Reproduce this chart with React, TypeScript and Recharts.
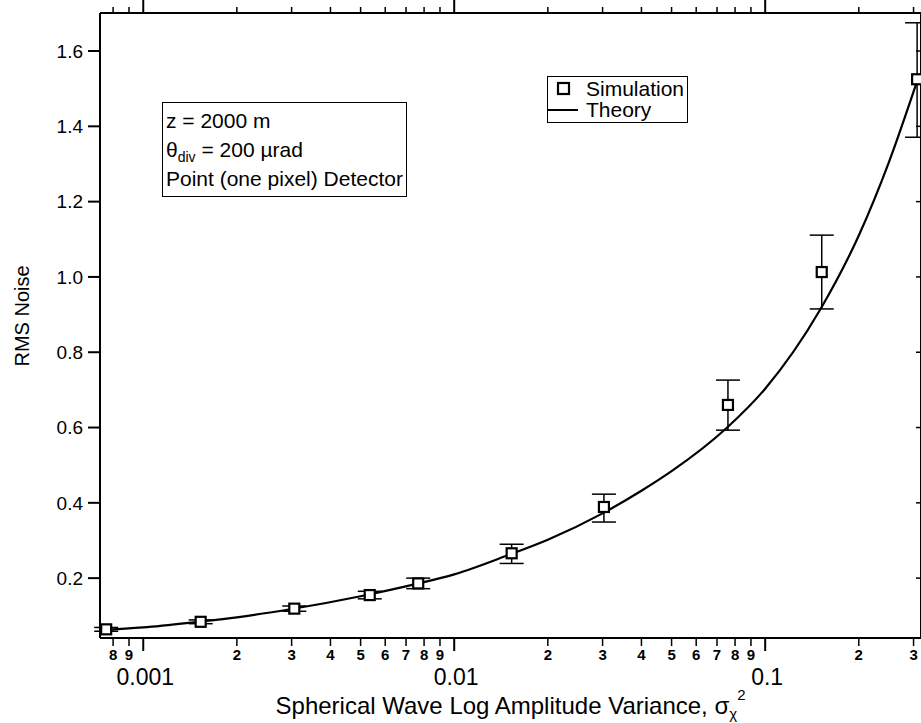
import React from 'react';
import { ComposedChart, XAxis, YAxis, Line, Scatter, ErrorBar } from 'recharts';

// Simulation points (x = spherical wave log amplitude variance, y = RMS noise)
const simX = [0.00076, 0.00153, 0.00306, 0.00535, 0.00766, 0.0153, 0.0303, 0.0759, 0.152, 0.308];
const simY = [0.064, 0.084, 0.119, 0.155, 0.186, 0.266, 0.389, 0.66, 1.013, 1.525];
const simErrLow = [0.005, 0.005, 0.007, 0.01, 0.014, 0.027, 0.04, 0.067, 0.098, 0.154];
const simErrHigh = [0.005, 0.005, 0.007, 0.01, 0.014, 0.024, 0.034, 0.066, 0.098, 0.15];

// Theory curve
const theoryX = [0.000726, 0.001, 0.0015, 0.002, 0.003, 0.005, 0.0075, 0.01, 0.015, 0.02, 0.03, 0.04, 0.05, 0.075, 0.1, 0.15, 0.2, 0.25, 0.308];
const theoryY = [0.062, 0.069, 0.084, 0.096, 0.118, 0.152, 0.184, 0.21, 0.262, 0.302, 0.372, 0.432, 0.484, 0.598, 0.703, 0.912, 1.11, 1.305, 1.52];

const xTicks = [0.0008, 0.0009, 0.001, 0.002, 0.003, 0.004, 0.005, 0.006, 0.007, 0.008, 0.009, 0.01, 0.02, 0.03, 0.04, 0.05, 0.06, 0.07, 0.08, 0.09, 0.1, 0.2, 0.3];
const yTicks = [0.2, 0.4, 0.6, 0.8, 1.0, 1.2, 1.4, 1.6];
const xDomain = [0.000726, 0.317];
const yDomain = [0.041, 1.701];

const simData = simX.map((x, i) => ({ x, y: simY[i], err: [simErrLow[i], simErrHigh[i]] }));
const theoryData = theoryX.map((x, i) => ({ x, y: theoryY[i] }));

const FONT = '"Liberation Sans", Arial, Helvetica, sans-serif';

function mantissa(v: number) {
  const e = Math.floor(Math.log10(v) + 1e-9);
  return Math.round(v / Math.pow(10, e));
}

const BottomTick = (props: any) => {
  const { x, y, payload } = props;
  const v = payload.value;
  const m = mantissa(v);
  const major = m === 1;
  return (
    <g>
      <line x1={x} x2={x} y1={y} y2={y + (major ? 13 : 8)} stroke="#000" strokeWidth={major ? 2 : 1.5} />
      {major ? (
        <text x={x + 2} y={y + 47} textAnchor="middle" fontSize={23} fontFamily={FONT} fill="#000">{String(v)}</text>
      ) : (
        <text x={x} y={y + 22} textAnchor="middle" fontSize={15} fontWeight="bold" fontFamily={FONT} fill="#000">{m}</text>
      )}
    </g>
  );
};

const TopTick = (props: any) => {
  const { x, y, payload } = props;
  const major = mantissa(payload.value) === 1;
  return <line x1={x} x2={x} y1={y} y2={y - (major ? 13 : 6)} stroke="#000" strokeWidth={major ? 2 : 1.5} />;
};

const NoTick = () => <g />;

const Square = (p: any) => (
  <rect x={p.cx - 5} y={p.cy - 5} width={10} height={10} fill="#fff" stroke="#000" strokeWidth={2.2} />
);

const XTitle = (props: any) => {
  const vb = props.viewBox;
  const cx = vb.x + vb.width / 2;
  return (
    <text x={cx} y={714} textAnchor="middle" fontSize={24} fontFamily={FONT} fill="#000">
      Spherical Wave Log Amplitude Variance, σ
      <tspan fontSize={15} dy={5}>χ</tspan>
      <tspan fontSize={15} dy={-19}>2</tspan>
    </text>
  );
};

const YTitle = () => (
  <text x={0} y={0} transform="translate(29,316) rotate(-90)" textAnchor="middle" fontSize={20} fontFamily={FONT} fill="#000">
    RMS Noise
  </text>
);

export default function App() {
  return (
    <div style={{ position: 'absolute', left: 0, top: 0, width: 921, height: 723, background: '#fff' }}>
      <ComposedChart width={921} height={723} margin={{ top: 0, right: 0, bottom: 0, left: 0 }}>
        <XAxis
          xAxisId="bottom"
          dataKey="x"
          type="number"
          scale="log"
          domain={xDomain}
          allowDataOverflow
          ticks={xTicks}
          interval={0}
          tickLine={false}
          tickSize={0}
          tickMargin={0}
          tick={<BottomTick />}
          height={85}
          axisLine={{ stroke: '#000', strokeWidth: 2 }}
          label={<XTitle />}
        />
        <XAxis
          xAxisId="top"
          orientation="top"
          dataKey="x"
          type="number"
          scale="log"
          domain={xDomain}
          allowDataOverflow
          ticks={xTicks}
          interval={0}
          tickLine={false}
          tickSize={0}
          tickMargin={0}
          tick={<TopTick />}
          height={13}
          axisLine={{ stroke: '#000', strokeWidth: 2 }}
        />
        <YAxis
          yAxisId="left"
          type="number"
          domain={yDomain}
          allowDataOverflow
          ticks={yTicks}
          interval={0}
          width={100}
          tickSize={12}
          tickMargin={5}
          tickLine={{ stroke: '#000', strokeWidth: 2 }}
          axisLine={{ stroke: '#000', strokeWidth: 2 }}
          tickFormatter={(v: number) => v.toFixed(1)}
          tick={{ fill: '#000', fontSize: 19, fontFamily: FONT }}
          label={<YTitle />}
        />
        <YAxis
          yAxisId="right"
          orientation="right"
          type="number"
          domain={yDomain}
          allowDataOverflow
          ticks={yTicks}
          interval={0}
          width={4}
          mirror
          tickSize={5}
          tickLine={{ stroke: '#000', strokeWidth: 1.5 }}
          axisLine={{ stroke: '#000', strokeWidth: 2 }}
          tick={<NoTick />}
        />
        <Line
          xAxisId="bottom"
          yAxisId="left"
          data={theoryData}
          dataKey="y"
          type="monotone"
          stroke="#000"
          strokeWidth={2.2}
          dot={false}
          isAnimationActive={false}
        />
        <Scatter
          xAxisId="bottom"
          yAxisId="left"
          data={simData}
          dataKey="y"
          shape={Square}
          isAnimationActive={false}
        >
          <ErrorBar dataKey="err" direction="y" width={12} stroke="#000" strokeWidth={1.5} isAnimationActive={false} />
        </Scatter>
      </ComposedChart>

      {/* parameter box */}
      <div
        style={{
          position: 'absolute', left: 162, top: 102, border: '1.5px solid #000', padding: '3px 3px 3px 3px',
          fontFamily: FONT, fontSize: 21, lineHeight: '29px', color: '#000', background: '#fff', whiteSpace: 'nowrap',
        }}
      >
        <div>z = 2000 m</div>
        <div>θ<sub style={{ fontSize: 14, verticalAlign: '-5px', lineHeight: 0 }}>div</sub> = 200 µrad</div>
        <div>Point (one pixel) Detector</div>
      </div>

      {/* legend */}
      <div
        style={{
          position: 'absolute', left: 547, top: 76, border: '1.5px solid #000', padding: '1px 3px 2px 0',
          fontFamily: FONT, fontSize: 21, lineHeight: '21px', color: '#000', background: '#fff', whiteSpace: 'nowrap',
        }}
      >
        <div style={{ display: 'flex', alignItems: 'center' }}>
          <svg width={38} height={21}>
            <rect x={10} y={5} width={11} height={11} fill="#fff" stroke="#000" strokeWidth={2.2} />
          </svg>
          <span>Simulation</span>
        </div>
        <div style={{ display: 'flex', alignItems: 'center' }}>
          <svg width={38} height={21}>
            <line x1={0} x2={30} y1={11} y2={11} stroke="#000" strokeWidth={2} />
          </svg>
          <span>Theory</span>
        </div>
      </div>
    </div>
  );
}
